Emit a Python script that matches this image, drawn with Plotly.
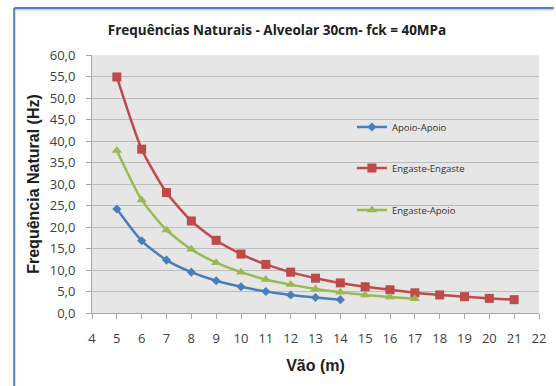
import plotly.graph_objects as go

# Span lengths (m) and natural frequencies (Hz) per support condition
vao_aa = [5, 6, 7, 8, 9, 10, 11, 12, 13, 14]
freq_aa = [24.2, 16.8, 12.3, 9.5, 7.5, 6.1, 5.0, 4.2, 3.6, 3.1]

vao_ee = [5, 6, 7, 8, 9, 10, 11, 12, 13, 14, 15, 16, 17, 18, 19, 20, 21]
freq_ee = [54.9, 38.1, 28.0, 21.4, 16.9, 13.7, 11.3, 9.5, 8.1, 7.0, 6.1, 5.4, 4.7, 4.2, 3.8, 3.4, 3.1]

vao_ea = [5, 6, 7, 8, 9, 10, 11, 12, 13, 14, 15, 16, 17]
freq_ea = [37.8, 26.3, 19.3, 14.8, 11.7, 9.5, 7.8, 6.6, 5.6, 4.8, 4.2, 3.7, 3.3]

x_ticks = list(range(4, 23))
y_ticks = [i * 5.0 for i in range(13)]

W, H = 556, 386
ML, MR, MT, MB = 92, 10, 55, 73
pw, ph = W - ML - MR, H - MT - MB


def px_x(p):
    return (p - ML) / pw


def px_y(p):
    return (H - MB - p) / ph


fig = go.Figure()
series = [
    ("Apoio-Apoio", vao_aa, freq_aa, "#4a7ebb", "diamond", 7, "legend", 127),
    ("Engaste-Engaste", vao_ee, freq_ee, "#be4b48", "square", 9, "legend2", 168),
    ("Engaste-Apoio", vao_ea, freq_ea, "#98b954", "triangle-up", 9, "legend3", 210),
]
legend_cfg = {}
for name, xs, ys, col, sym, ms, leg, ly in series:
    fig.add_trace(go.Scatter(
        x=xs, y=ys, name=name, mode="lines+markers", legend=leg,
        line=dict(color=col, width=2.5, shape="spline", smoothing=0.6),
        marker=dict(symbol=sym, size=ms, color=col),
    ))
    legend_cfg[leg] = dict(
        x=px_x(356), y=px_y(ly), xanchor="left", yanchor="middle",
        bgcolor="rgba(0,0,0,0)", font=dict(size=9.5, color="#303030"),
        itemwidth=30,
    )

fig.update_layout(
    width=W, height=H,
    margin=dict(l=ML, r=MR, t=MT, b=MB),
    paper_bgcolor="white",
    plot_bgcolor="#e6e6e6",
    font=dict(family="Open Sans, Liberation Sans, sans-serif", color="#404040"),
    title=dict(
        text="<b>Frequências Naturais - Alveolar 30cm- fck = 40MPa</b>",
        x=277 / W, xanchor="center", y=1 - 30 / H, yanchor="middle",
        font=dict(size=13.5, color="#202020", family="Open Sans, sans-serif"),
    ),
    showlegend=True,
    **legend_cfg,
)
fig.update_xaxes(
    range=[4, 22], tickvals=x_ticks, ticktext=[str(v) for v in x_ticks],
    showgrid=False, zeroline=False,
    showline=True, linecolor="#a6a6a6", linewidth=1,
    ticks="outside", ticklen=5, tickcolor="#a6a6a6", ticklabelstandoff=8,
    tickfont=dict(size=13, color="#404040"),
    title=dict(text="<b>Vão (m)</b>", font=dict(size=16, color="#202020",
               family="Liberation Sans, Arial, sans-serif"), standoff=14),
)
fig.update_yaxes(
    range=[0, 60], tickvals=y_ticks,
    ticktext=[f"{v:.1f}".replace(".", ",") for v in y_ticks],
    showgrid=True, gridcolor="#bcbcbc", gridwidth=1, zeroline=False,
    showline=True, linecolor="#a6a6a6", linewidth=1,
    ticks="outside", ticklen=5, tickcolor="#a6a6a6", ticklabelstandoff=8,
    tickfont=dict(size=13, color="#404040"),
    title=dict(text="<b>Frequência Natural (Hz)</b>", font=dict(size=16, color="#202020",
               family="Liberation Sans, Arial, sans-serif"), standoff=6),
)

# Chart frame: blue border along top and left edges
fig.add_shape(type="line", xref="paper", yref="paper",
              x0=px_x(13), x1=px_x(W + 5), y0=px_y(9.5), y1=px_y(9.5),
              line=dict(color="#d0d0d0", width=2))
fig.add_shape(type="line", xref="paper", yref="paper",
              x0=px_x(13), x1=px_x(W + 5), y0=px_y(8), y1=px_y(8),
              line=dict(color="#4f81bd", width=2))
fig.add_shape(type="line", xref="paper", yref="paper",
              x0=px_x(13), x1=px_x(13), y0=px_y(8), y1=px_y(H + 5),
              line=dict(color="#4f81bd", width=2))

fig.write_html("out.html")
